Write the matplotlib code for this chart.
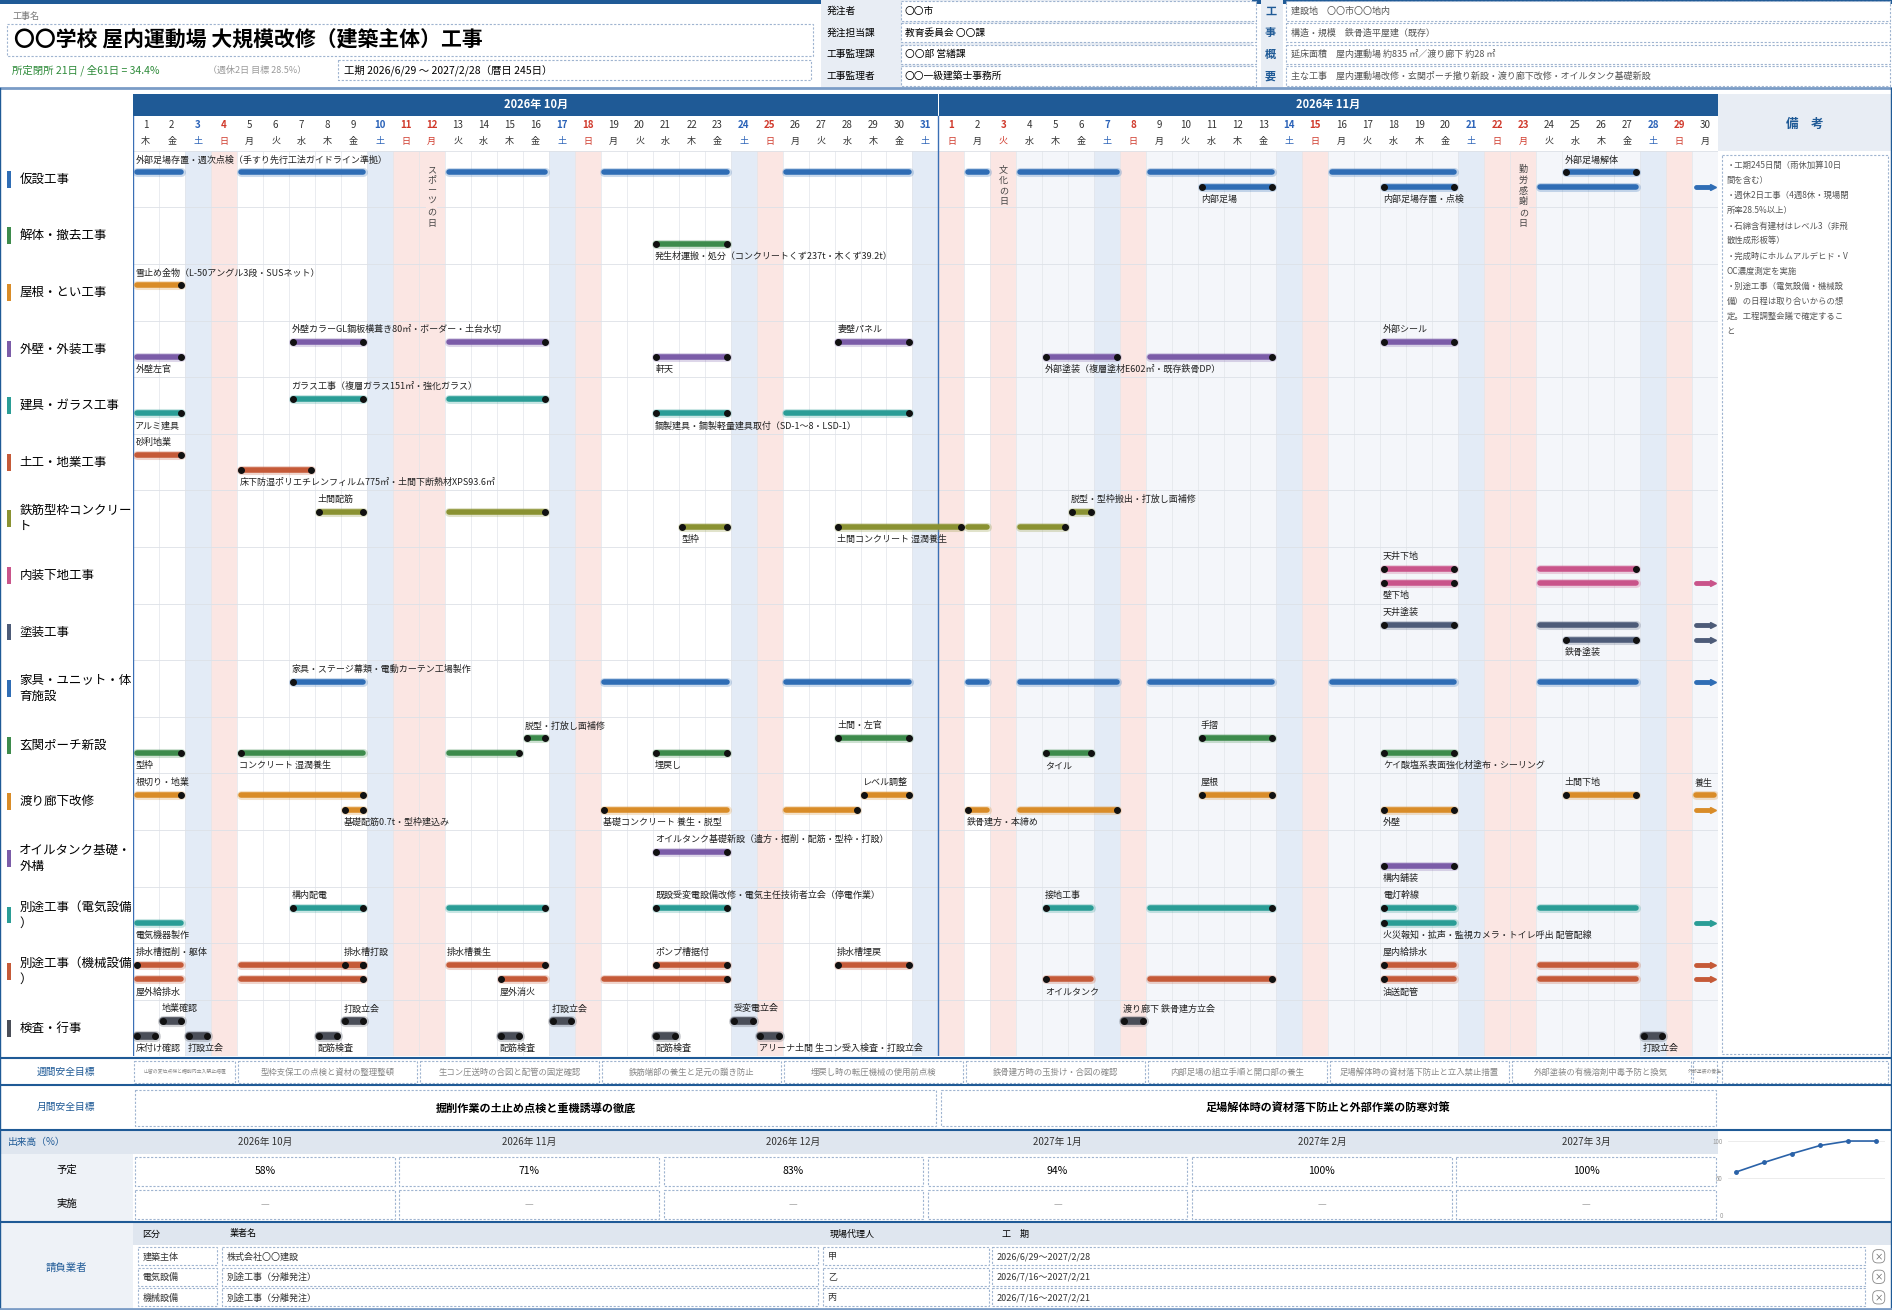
import matplotlib
matplotlib.use('Agg')
import matplotlib.pyplot as plt
from matplotlib.patches import Rectangle, FancyBboxPatch

plt.rcParams['font.family'] = ['Noto Sans CJK JP', 'DejaVu Sans']

W, H = 1568, 1085   # layout units (scaled to 1892x1310 on output)
NAVY = '#1f5a96'
DASH = '#9fb4d0'

WEEKDAYS = ['月', '火', '水', '木', '金', '土', '日']
HOLIDAYS = {12: 'スポーツの日', 34: '文化の日', 54: '勤労感謝の日'}  # day index (Oct 1 = 1)

C = {'blue': '#2f6db5', 'green': '#3d8b4c', 'orange': '#d98c28', 'purple': '#7b5ca8',
     'teal': '#2a9d96', 'rust': '#c55a38', 'olive': '#8a9232', 'pink': '#c9548a',
     'slate': '#4d5b78', 'gray': '#4a4e58'}

# (name, colour, [(lane, start, end, label, label_pos, dots)])  lane 0 upper / 1 lower
ROWS = [
    ('仮設工事', 'blue', [
        (0, 1, 2, '外部足場存置・週次点検（手すり先行工法ガイドライン準拠）', 'a', 'n'),
        (0, 5, 9, '', '', 'n'), (0, 13, 16, '', '', 'n'), (0, 19, 23, '', '', 'n'),
        (0, 26, 30, '', '', 'n'), (0, 33, 33, '', '', 'n'), (0, 35, 38, '', '', 'n'),
        (0, 40, 44, '', '', 'n'), (0, 47, 51, '', '', 'n'), (0, 56, 58, '外部足場解体', 'a', 'b'),
        (1, 42, 44, '内部足場', 'b', 'b'), (1, 49, 51, '内部足場存置・点検', 'b', 'b'),
        (1, 55, 58, '', '', 'n'), (1, 61, 61, '', '', 'arrow')]),
    ('解体・撤去工事', 'green', [
        (1, 21, 23, '発生材運搬・処分（コンクリートくず237t・木くず39.2t）', 'b', 'b')]),
    ('屋根・とい工事', 'orange', [
        (0, 1, 2, '雪止め金物（L-50アングル3段・SUSネット）', 'a', 'e')]),
    ('外壁・外装工事', 'purple', [
        (0, 7, 9, '外壁カラーGL鋼板横葺き80㎡・ボーダー・土台水切', 'a', 'b'), (0, 13, 16, '', '', 'e'),
        (0, 28, 30, '妻壁パネル', 'a', 'b'), (0, 49, 51, '外部シール', 'a', 'b'),
        (1, 1, 2, '外壁左官', 'b', 'e'), (1, 21, 23, '軒天', 'b', 'b'),
        (1, 36, 38, '外部塗装（複層塗材E602㎡・既存鉄骨DP）', 'b', 'b'), (1, 40, 44, '', '', 'e')]),
    ('建具・ガラス工事', 'teal', [
        (0, 7, 9, 'ガラス工事（複層ガラス151㎡・強化ガラス）', 'a', 'b'), (0, 13, 16, '', '', 'e'),
        (1, 1, 2, 'アルミ建具', 'b', 'e'), (1, 21, 23, '鋼製建具・鋼製軽量建具取付（SD-1～8・LSD-1）', 'b', 'b'),
        (1, 26, 30, '', '', 'e')]),
    ('土工・地業工事', 'rust', [
        (0, 1, 2, '砂利地業', 'a', 'e'),
        (1, 5, 7, '床下防湿ポリエチレンフィルム775㎡・土間下断熱材XPS93.6㎡', 'b', 'b')]),
    ('鉄筋型枠コンクリー\nト', 'olive', [
        (0, 8, 9, '土間配筋', 'a', 'b'), (0, 13, 16, '', '', 'e'),
        (0, 37, 37, '脱型・型枠搬出・打放し面補修', 'a', 'b'),
        (1, 22, 23, '型枠', 'b', 'b'), (1, 28, 32, '土間コンクリート 湿潤養生', 'b', 'b'),
        (1, 33, 33, '', '', 'n'), (1, 35, 36, '', '', 'e')]),
    ('内装下地工事', 'pink', [
        (0, 49, 51, '天井下地', 'a', 'b'), (0, 55, 58, '', '', 'e'),
        (1, 49, 51, '壁下地', 'b', 'b'), (1, 55, 58, '', '', 'n'), (1, 61, 61, '', '', 'arrow')]),
    ('塗装工事', 'slate', [
        (0, 49, 51, '天井塗装', 'a', 'b'), (0, 55, 58, '', '', 'n'), (0, 61, 61, '', '', 'arrow'),
        (1, 56, 58, '鉄骨塗装', 'b', 'b'), (1, 61, 61, '', '', 'arrow')]),
    ('家具・ユニット・体\n育施設', 'blue', [
        (0, 7, 9, '家具・ステージ幕類・電動カーテン工場製作', 'a', 's'), (0, 19, 23, '', '', 'n'),
        (0, 26, 30, '', '', 'n'), (0, 33, 33, '', '', 'n'), (0, 35, 38, '', '', 'n'),
        (0, 40, 44, '', '', 'n'), (0, 47, 51, '', '', 'n'), (0, 55, 58, '', '', 'n'),
        (0, 61, 61, '', '', 'arrow')]),
    ('玄関ポーチ新設', 'green', [
        (0, 16, 16, '脱型・打放し面補修', 'a', 'b'), (0, 28, 30, '土間・左官', 'a', 'b'),
        (0, 42, 44, '手摺', 'a', 'b'),
        (1, 1, 2, '型枠', 'b', 'e'), (1, 5, 9, 'コンクリート 湿潤養生', 'b', 's'), (1, 13, 15, '', '', 'e'),
        (1, 21, 23, '埋戻し', 'b', 'b'), (1, 36, 37, 'タイル', 'b', 'b'),
        (1, 49, 51, 'ケイ酸塩系表面強化材塗布・シーリング', 'b', 'b')]),
    ('渡り廊下改修', 'orange', [
        (0, 1, 2, '根切り・地業', 'a', 'e'), (0, 5, 9, '', '', 'e'), (0, 29, 30, 'レベル調整', 'a', 'b'),
        (0, 42, 44, '屋根', 'a', 'b'), (0, 56, 58, '土間下地', 'a', 'b'), (0, 61, 61, '養生', 'a', 'n'),
        (1, 9, 9, '基礎配筋0.7t・型枠建込み', 'b', 'b'), (1, 19, 23, '基礎コンクリート 養生・脱型', 'b', 's'),
        (1, 26, 28, '', '', 'e'), (1, 33, 33, '鉄骨建方・本締め', 'b', 's'), (1, 35, 38, '', '', 'e'),
        (1, 49, 51, '外壁', 'b', 'b'), (1, 61, 61, '', '', 'arrow')]),
    ('オイルタンク基礎・\n外構', 'purple', [
        (0, 21, 23, 'オイルタンク基礎新設（遣方・掘削・配筋・型枠・打設）', 'a', 'b'),
        (1, 49, 51, '構内舗装', 'b', 'b')]),
    ('別途工事（電気設備\n）', 'teal', [
        (0, 7, 9, '構内配電', 'a', 'b'), (0, 13, 16, '', '', 'e'),
        (0, 21, 23, '既設受変電設備改修・電気主任技術者立会（停電作業）', 'a', 'b'),
        (0, 36, 37, '接地工事', 'a', 's'), (0, 40, 44, '', '', 'e'), (0, 49, 51, '電灯幹線', 'a', 's'),
        (0, 55, 58, '', '', 'n'), (1, 1, 2, '電気機器製作', 'b', 'n'),
        (1, 49, 51, '火災報知・拡声・監視カメラ・トイレ呼出 配管配線', 'b', 's'), (1, 61, 61, '', '', 'arrow')]),
    ('別途工事（機械設備\n）', 'rust', [
        (0, 1, 2, '排水槽掘削・躯体', 'a', 's'), (0, 5, 9, '', '', 'e'), (0, 9, 9, '排水槽打設', 'a', 'b'),
        (0, 13, 16, '排水槽養生', 'a', 'e'), (0, 21, 23, 'ポンプ槽据付', 'a', 'b'),
        (0, 28, 30, '排水槽埋戻', 'a', 'b'), (0, 49, 51, '屋内給排水', 'a', 's'), (0, 55, 58, '', '', 'n'),
        (0, 61, 61, '', '', 'arrow'),
        (1, 1, 2, '屋外給排水', 'b', 'n'), (1, 5, 9, '', '', 'e'), (1, 15, 16, '屋外消火', 'b', 's'),
        (1, 19, 23, '', '', 'e'), (1, 36, 37, 'オイルタンク', 'b', 's'), (1, 40, 44, '', '', 'e'),
        (1, 49, 51, '油送配管', 'b', 's'), (1, 55, 58, '', '', 'n'), (1, 61, 61, '', '', 'arrow')]),
    ('検査・行事', 'gray', [
        (0, 2, 2, '地業確認', 'a', 'b'), (0, 9, 9, '打設立会', 'a', 'b'), (0, 17, 17, '打設立会', 'a', 'b'),
        (0, 24, 24, '受変電立会', 'a', 'b'), (0, 39, 39, '渡り廊下 鉄骨建方立会', 'a', 'b'),
        (1, 1, 1, '床付け確認', 'b', 'b'), (1, 3, 3, '打設立会', 'b', 'b'), (1, 8, 8, '配筋検査', 'b', 'b'),
        (1, 15, 15, '配筋検査', 'b', 'b'), (1, 21, 21, '配筋検査', 'b', 'b'),
        (1, 25, 25, 'アリーナ土間 生コン受入検査・打設立会', 'b', 'b'), (1, 59, 59, '打設立会', 'b', 'b')]),
]

WEEKLY = [(1, 4, '山留の変位点検と掘削内立入禁止措置'), (5, 11, '型枠支保工の点検と資材の整理整頓'),
          (12, 18, '生コン圧送時の合図と配管の固定確認'), (19, 25, '鉄筋端部の養生と足元の躓き防止'),
          (26, 32, '埋戻し時の転圧機械の使用前点検'), (33, 39, '鉄骨建方時の玉掛け・合図の確認'),
          (40, 46, '内部足場の組立手順と開口部の養生'), (47, 53, '足場解体時の資材落下防止と立入禁止措置'),
          (54, 60, '外部塗装の有機溶剤中毒予防と換気'), (61, 61, '外部塗装の養生')]
MONTHLY = [(1, 31, '掘削作業の土止め点検と重機誘導の徹底'), (32, 61, '足場解体時の資材落下防止と外部作業の防寒対策')]
PROGRESS = {'2026年 10月': 58, '2026年 11月': 71, '2026年 12月': 83,
            '2027年 1月': 94, '2027年 2月': 100, '2027年 3月': 100}
CONTRACTORS = [('建築主体', '株式会社〇〇建設', '甲', '2026/6/29～2027/2/28'),
               ('電気設備', '別途工事（分離発注）', '乙', '2026/7/16～2027/2/21'),
               ('機械設備', '別途工事（分離発注）', '丙', '2026/7/16～2027/2/21')]
NOTES = ['・工期245日間（雨休加算10日', '間を含む）', '・週休2日工事（4週8休・現場閉',
         '所率28.5%以上）', '・石綿含有建材はレベル3（非飛', '散性成形板等）',
         '・完成時にホルムアルデヒド・V', 'OC濃度測定を実施', '・別途工事（電気設備・機械設',
         '備）の日程は取り合いからの想', '定。工程調整会議で確定するこ', 'と']

GX0, GX1 = 110, 1424     # gantt horizontal extent (layout units)
DAYW = (GX1 - GX0) / 61


def box(ax, x, y, w, h, fc='white', ec=DASH, ls=(0, (2, 1.5)), lw=0.8):
    ax.add_patch(Rectangle((x, y), w, h, fc=fc, ec=ec, ls=ls, lw=lw))


def weekday(d):
    return (d - 1 + 3) % 7   # Oct 1 2026 is Thursday


def day_colour(d):
    if weekday(d) == 6 or d in HOLIDAYS:
        return 'sun'
    if weekday(d) == 5:
        return 'sat'
    return ''


def draw_frame(ov):
    """Header block, section boxes and bottom tables."""
    ov.add_patch(Rectangle((0, 0), W, 3, fc=NAVY, ec='none'))
    ov.text(10, 14, '工事名', fontsize=6.5, color='#777', va='center')
    box(ov, 6, 20, 668, 26)
    ov.text(12, 33, '〇〇学校 屋内運動場 大規模改修（建築主体）工事', fontsize=15, weight='bold', va='center')
    ov.text(10, 58, '所定閉所 21日 / 全61日 = 34.4%', fontsize=7.5, color='#2e8b3a', va='center')
    ov.text(172, 58, '（週休2日 目標 28.5%）', fontsize=6.5, color='#999', va='center')
    box(ov, 280, 50, 392, 16)
    ov.text(285, 58, '工期 2026/6/29 ～ 2027/2/28（暦日 245日）', fontsize=7.5, va='center')
    ov.add_patch(Rectangle((680, 0), 358, 72, fc='#e8edf4', ec='none'))
    for i, (k, v) in enumerate([('発注者', '〇〇市'), ('発注担当課', '教育委員会 〇〇課'),
                                ('工事監理課', '〇〇部 営繕課'), ('工事監理者', '〇〇一級建築士事務所')]):
        y = 9 + i * 18
        ov.text(685, y, k, fontsize=7, va='center')
        box(ov, 747, y - 8, 294, 16)
        ov.text(750, y, v, fontsize=7, va='center')
    ov.add_patch(Rectangle((1045, 0), 18, 72, fc='#e8edf4', ec='none'))
    for i, (ch, k, v) in enumerate([('工', '建設地', '〇〇市〇〇地内'), ('事', '構造・規模', '鉄骨造平屋建（既存）'),
                                    ('概', '延床面積', '屋内運動場 約835 ㎡／渡り廊下 約28 ㎡'),
                                    ('要', '主な工事', '屋内運動場改修・玄関ポーチ撤り新設・渡り廊下改修・オイルタンク基礎新設')]):
        y = 9 + i * 18
        ov.text(1053, y, ch, fontsize=8, color=NAVY, weight='bold', ha='center', va='center')
        box(ov, 1066, y - 8, 500, 16)
        ov.text(1070, y, k + '　' + v, fontsize=6.5, color='#555', va='center')
    ov.plot([0, W], [73, 73], color='#7a9cc6', lw=2)
    # left column / remarks
    ov.add_patch(Rectangle((1424, 78), 144, 47, fc='#e8edf4', ec='none'))
    ov.text(1496, 103, '備　考', fontsize=9, color=NAVY, weight='bold', ha='center', va='center')
    box(ov, 1427, 128, 138, 745)
    for i, s in enumerate(NOTES):
        ov.text(1431, 137 + i * 12.5, s, fontsize=6, color='#555', va='center')
    for x in (0, 1567):
        ov.plot([x, x], [73, 1085], color=NAVY, lw=1)
    # weekly safety
    ov.plot([0, W], [876, 876], color=NAVY, lw=1.5)
    ov.text(55, 888, '週間安全目標', fontsize=7, color=NAVY, ha='center', va='center')
    for s, e, t in WEEKLY:
        x0 = GX0 + (s - 1) * DAYW
        box(ov, x0 + 1, 879, (e - s + 1) * DAYW - 2, 18)
        ov.text(x0 + (e - s + 1) * DAYW / 2, 888, t, fontsize=6 if e - s > 3 else 3.5, color='#888',
                ha='center', va='center', clip_on=True)
    box(ov, 1427, 879, 138, 18)
    ov.plot([0, W], [899, 899], color=NAVY, lw=1.5)
    ov.text(55, 917, '月間安全目標', fontsize=7, color=NAVY, ha='center', va='center')
    for s, e, t in MONTHLY:
        x0 = GX0 + (s - 1) * DAYW
        box(ov, x0 + 2, 903, (e - s + 1) * DAYW - 4, 30)
        ov.text(x0 + (e - s + 1) * DAYW / 2, 918, t, fontsize=8, weight='bold', ha='center', va='center')
    # progress table
    ov.plot([0, W], [936, 936], color=NAVY, lw=1.5)
    ov.add_patch(Rectangle((0, 937), 1424, 19, fc='#dfe6ef', ec='none'))
    ov.add_patch(Rectangle((0, 956), 110, 55, fc='#eef2f7', ec='none'))
    ov.text(30, 946, '出来高（%）', fontsize=7, color=NAVY, ha='center', va='center')
    ov.text(55, 969, '予定', fontsize=7.5, ha='center', va='center')
    ov.text(55, 997, '実施', fontsize=7.5, ha='center', va='center')
    cw = (GX1 - GX0) / 6
    for i, (m, v) in enumerate(PROGRESS.items()):
        x0 = GX0 + i * cw
        ov.text(x0 + cw / 2, 946, m, fontsize=7, ha='center', va='center', color='#333')
        box(ov, x0 + 2, 958, cw - 4, 24)
        ov.text(x0 + cw / 2, 970, f'{v}%', fontsize=7.5, ha='center', va='center')
        box(ov, x0 + 2, 986, cw - 4, 24)
        ov.text(x0 + cw / 2, 998, '—', fontsize=7, color='#aaa', ha='center', va='center')
    # contractors
    ov.plot([0, W], [1012, 1012], color=NAVY, lw=1.5)
    ov.add_patch(Rectangle((0, 1013), 110, 72, fc='#eef2f7', ec='none'))
    ov.add_patch(Rectangle((110, 1013), 1457, 18, fc='#dfe6ef', ec='none'))
    ov.text(55, 1050, '請負業者', fontsize=7.5, color=NAVY, ha='center', va='center')
    cols = [(114, 66), (184, 494), (682, 138), (822, 724)]
    for x, t in zip([118, 190, 688, 830], ['区分', '業者名', '現場代理人', '工　期']):
        ov.text(x, 1022, t, fontsize=6.5, va='center')
    for r, row in enumerate(CONTRACTORS):
        y = 1033 + r * 17
        for (x, w), t in zip(cols, row):
            box(ov, x, y, w, 15)
            ov.text(x + 4, y + 8, t, fontsize=6.5, va='center', color='#333')
        ov.add_patch(FancyBboxPatch((1552, y + 2), 10, 11, boxstyle='round,pad=0,rounding_size=4',
                                    fc='white', ec='#888', lw=0.6))
        ov.text(1557, y + 8, '×', fontsize=6, ha='center', va='center', color='#555')
    ov.plot([0, W], [1084, 1084], color='#7a9cc6', lw=2)


def draw_gantt(ax):
    ax.set_xlim(0, 61)
    ax.set_ylim(len(ROWS), -1)
    ax.axis('off')
    for d in range(1, 62):
        kind = day_colour(d)
        fc = {'sun': '#fbe6e3', 'sat': '#e3ebf6'}.get(kind, '#f4f6fa' if d > 33 else 'white')
        ax.add_patch(Rectangle((d - 1, 0), 1, len(ROWS), fc=fc, ec='none', zorder=0))
        ax.plot([d, d], [0, len(ROWS)], color='#e2e5ea', lw=0.5, zorder=0.5)
        col = {'sun': '#d0392b', 'sat': '#2a62b8'}.get(kind, '#333')
        num = d if d <= 31 else d - 31
        ax.text(d - 0.5, -0.45, str(num), fontsize=7, color=col, ha='center', va='center',
                weight='bold' if kind else 'normal')
        ax.text(d - 0.5, -0.17, WEEKDAYS[weekday(d)], fontsize=6.5, color=col, ha='center', va='center')
        if d in HOLIDAYS:
            ax.text(d - 0.5, 0.25, '\n'.join(HOLIDAYS[d]), fontsize=6.5, color='#444',
                    ha='center', va='top', linespacing=1.25, zorder=3,
                    bbox=dict(fc=fc, ec='none', pad=0.5))
    ax.add_patch(Rectangle((0, -1), 61, 0.38, fc=NAVY, ec='none'))
    ax.add_patch(Rectangle((30.97, -1), 0.06, 0.38, fc='white', ec='none'))
    ax.text(15.5, -0.81, '2026年 10月', fontsize=8, color='white', weight='bold', ha='center', va='center')
    ax.text(46, -0.81, '2026年 11月', fontsize=8, color='white', weight='bold', ha='center', va='center')
    ax.plot([31, 31], [-0.62, len(ROWS)], color='#3a6fb5', lw=1.0, zorder=1)
    ax.plot([0, 0], [-0.62, len(ROWS)], color='#3a6fb5', lw=1.0, zorder=1)
    for r in range(len(ROWS) + 1):
        ax.plot([0, 61], [r, r], color='#dde1e7', lw=0.6, zorder=0.6)
    for r, (name, cname, bars) in enumerate(ROWS):
        col = C[cname]
        for lane, s, e, label, pos, dots in bars:
            y = r + (0.38 if lane == 0 else 0.64)
            x0, x1 = s - 1 + 0.15, e - 0.15
            lw = 4.0 if cname != 'gray' else 5.5
            if dots == 'arrow':
                ax.plot([x0, x1 - 0.2], [y, y], color=col, lw=3.5, solid_capstyle='round', zorder=3)
                ax.plot([x1 - 0.05], [y], '>', color=col, ms=5, zorder=3)
            else:
                ax.plot([x0, x1], [y, y], color=col, lw=lw + 2.5, alpha=0.25,
                        solid_capstyle='round', zorder=2)
                ax.plot([x0, x1], [y, y], color=col, lw=lw, solid_capstyle='round', zorder=3)
                ends = {'b': [x0, x1], 'e': [x1], 's': [x0]}.get(dots, [])
                if ends:
                    ax.plot(ends, [y] * len(ends), 'o', color='#111', ms=4, zorder=4)
            if label:
                ly = y - 0.22 if pos == 'a' else y + 0.22
                ax.text(s - 1 + 0.1, ly, label, fontsize=6.5, color='#222', va='center', zorder=5)


def draw_labels(ov):
    y0, rh = 125, (875 - 125) / len(ROWS)
    for r, (name, cname, bars) in enumerate(ROWS):
        yc = y0 + (r + 0.5) * rh
        ov.add_patch(Rectangle((6, yc - 7), 3, 14, fc=C[cname], ec='none'))
        ov.text(16, yc, name, fontsize=9, va='center', linespacing=1.3)


def draw_progress_chart(fig):
    ax = fig.add_axes([1432 / W, 1 - 1006 / H, 130 / W, 64 / H])
    vals = list(PROGRESS.values())
    ax.plot(range(len(vals)), vals, '-o', color='#2a62a8', ms=2.5, lw=1.2)
    ax.set_ylim(0, 105)
    ax.set_xlim(-0.3, len(vals) - 0.7)
    ax.set_yticks([0, 50, 100])
    ax.set_xticks([])
    ax.tick_params(labelsize=4.5, colors='#999', length=0)
    ax.grid(axis='y', color='#e5e5e5', lw=0.5)
    for sp in ax.spines.values():
        sp.set_visible(False)


def main():
    fig = plt.figure(figsize=(18.92, 13.10), dpi=100)
    ov = fig.add_axes([0, 0, 1, 1])
    ov.set_xlim(0, W)
    ov.set_ylim(H, 0)
    ov.axis('off')
    draw_frame(ov)
    draw_labels(ov)
    ax = fig.add_axes([GX0 / W, 1 - 875 / H, (GX1 - GX0) / W, (875 - 78) / H])
    draw_gantt(ax)
    draw_progress_chart(fig)
    fig.savefig('out.png', dpi=100)


if __name__ == '__main__':
    main()
